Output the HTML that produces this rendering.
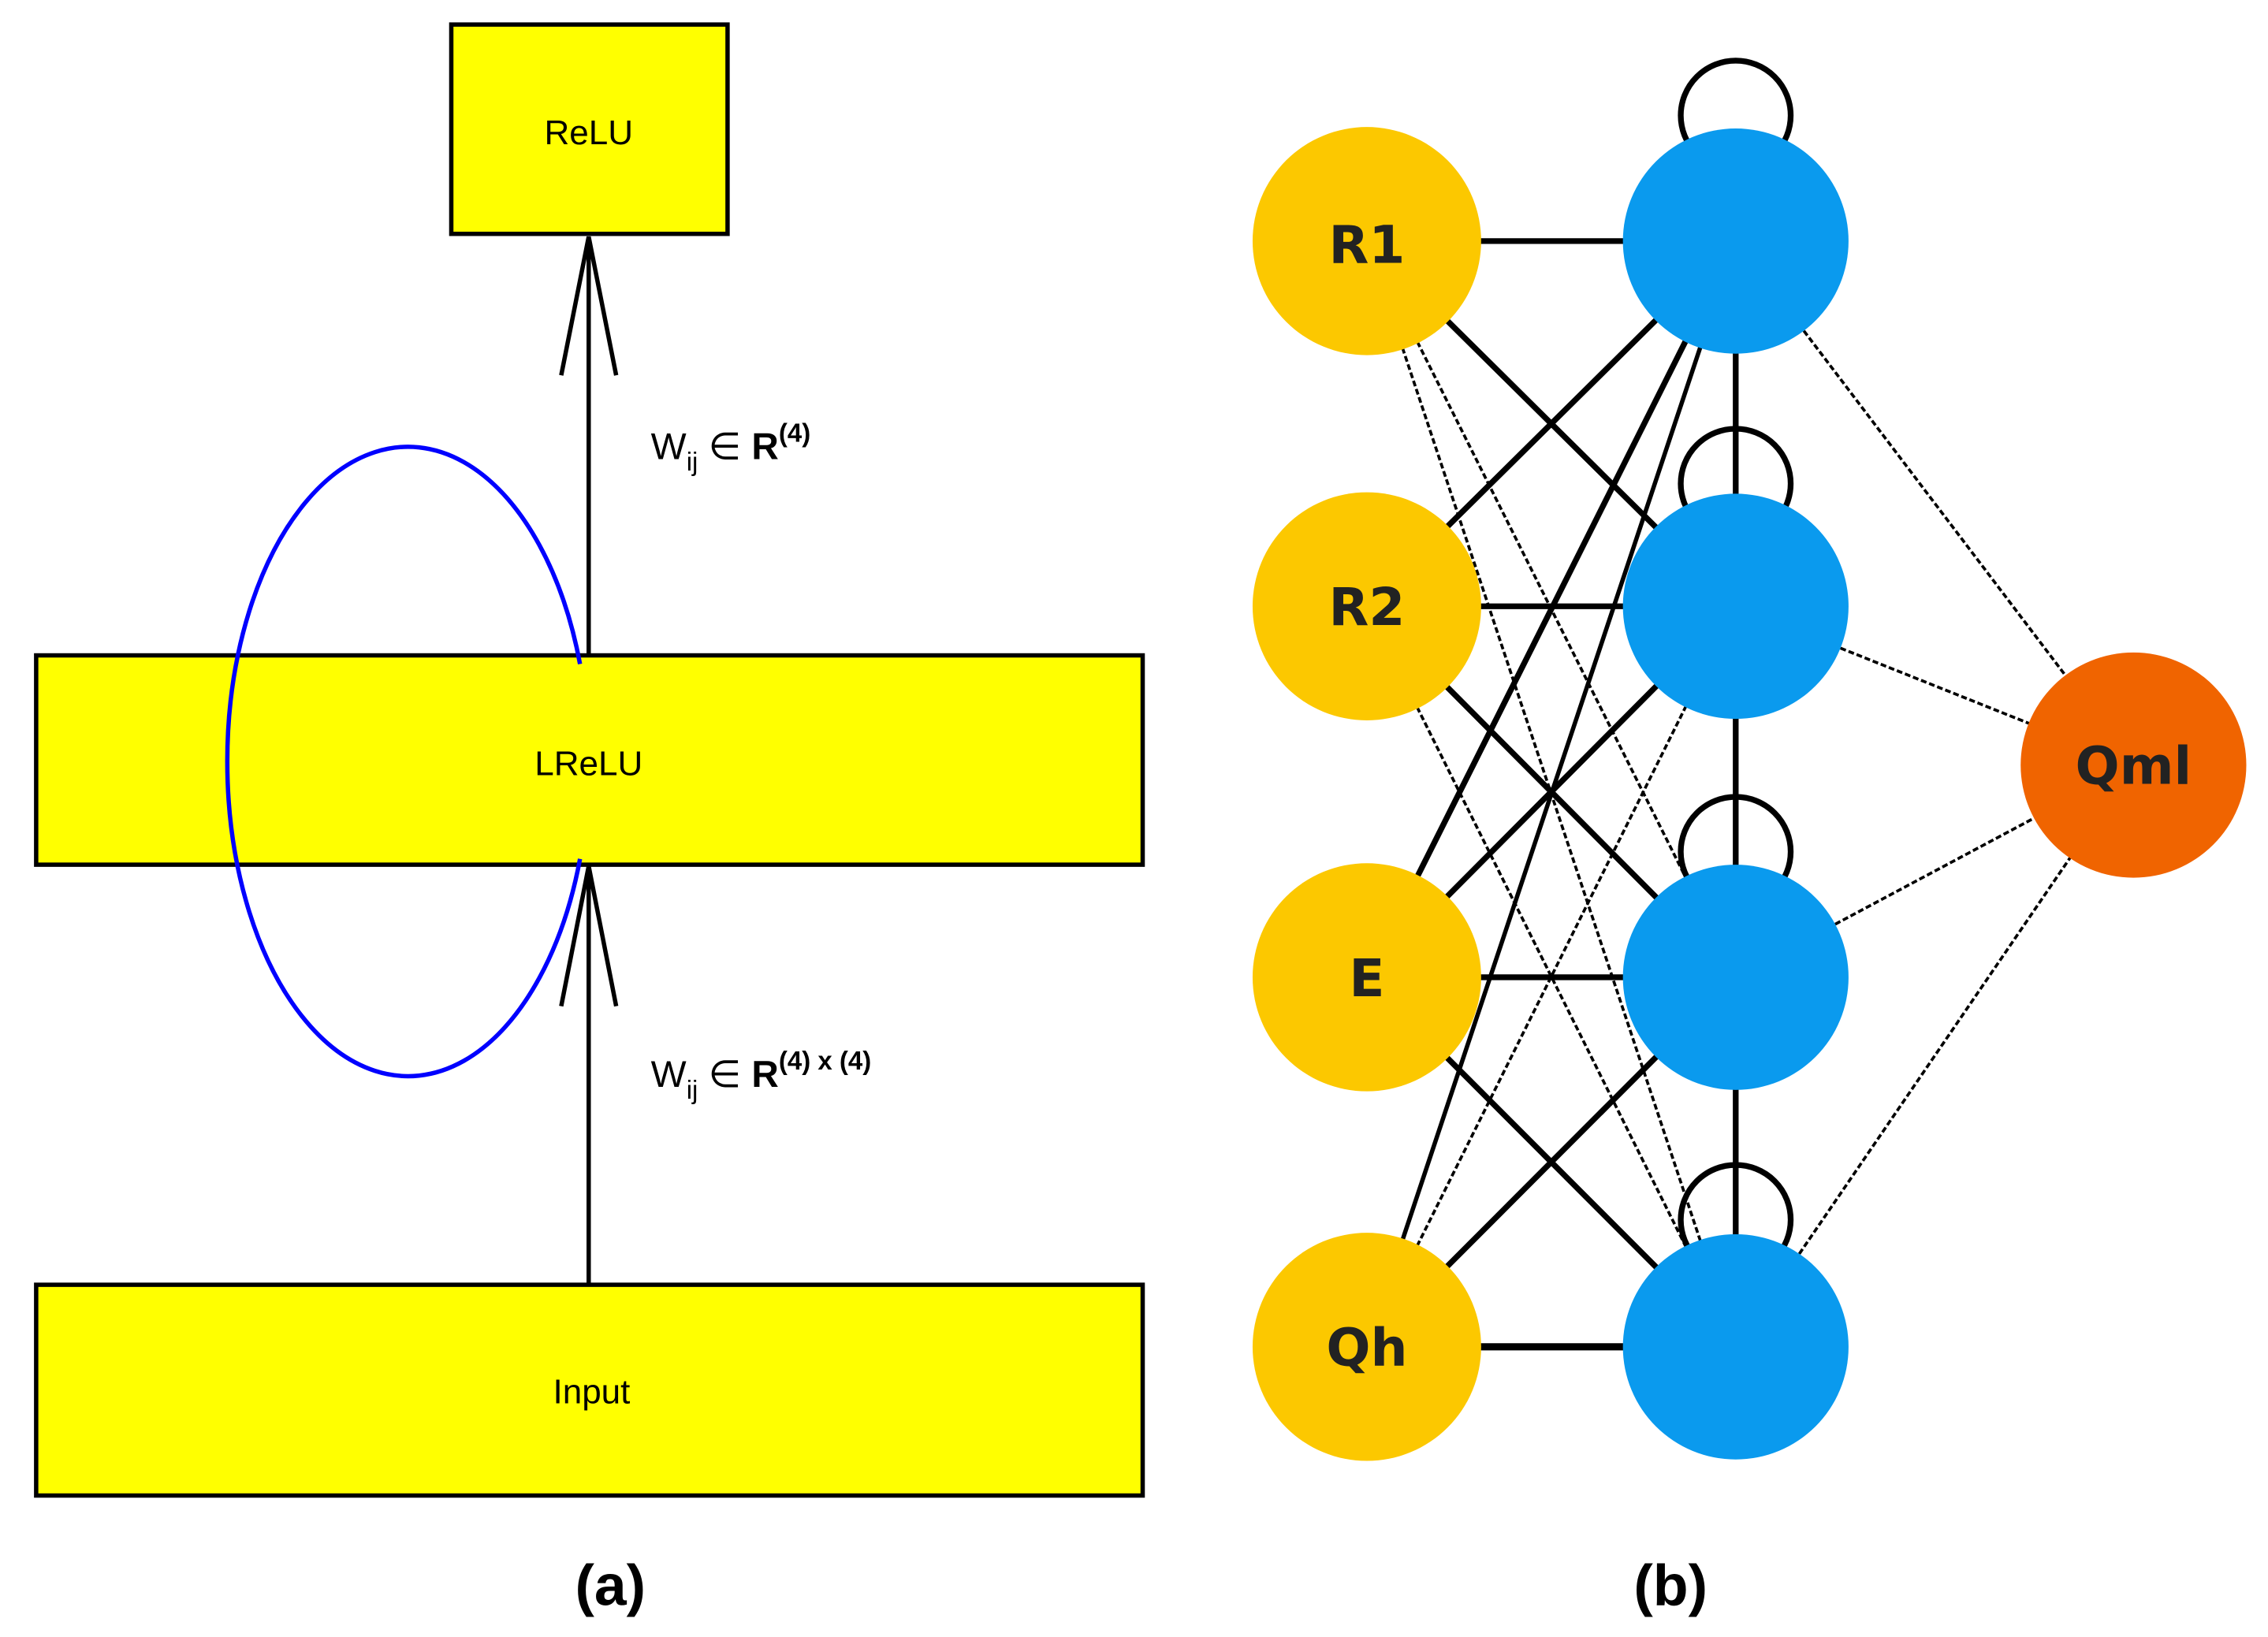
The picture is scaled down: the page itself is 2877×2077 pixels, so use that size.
<!DOCTYPE html>
<html><head><meta charset="utf-8"><style>html,body{margin:0;padding:0;background:#fff}svg{display:block}</style></head>
<body>
<svg width="2877" height="2077" viewBox="0 0 1568 1134" preserveAspectRatio="none" xmlns="http://www.w3.org/2000/svg" font-family="Liberation Sans, sans-serif">
<rect x="0" y="0" width="1568" height="1134" fill="#fff"/>
<rect x="312" y="17" width="191" height="145" fill="#ffff00" stroke="#000" stroke-width="3"/>
<text x="407" y="100" font-size="24" text-anchor="middle">ReLU</text>
<rect x="25" y="454" width="765" height="145" fill="#ffff00" stroke="#000" stroke-width="3"/>
<text x="407" y="537" font-size="24" text-anchor="middle">LReLU</text>
<rect x="25" y="890" width="765" height="146" fill="#ffff00" stroke="#000" stroke-width="3"/>
<text x="409" y="972" font-size="24" text-anchor="middle">Input</text>
<g stroke="#000" stroke-width="3" fill="none">
<line x1="407" y1="454" x2="407" y2="164"/>
<polyline points="388,260 407,164 426,260"/>
<line x1="407" y1="890" x2="407" y2="600"/>
<polyline points="388,697 407,600 426,697"/>
</g>
<path d="M401,460 A125,218 0 1 0 401,595" fill="none" stroke="#0000ff" stroke-width="3"/>
<text x="450" y="318" font-size="26">W<tspan font-size="18" dy="8">ij</tspan><tspan dy="-8"> ∈ </tspan><tspan font-weight="bold">R</tspan><tspan font-size="18" font-weight="bold" dy="-12">(4)</tspan></text>
<text x="450" y="753" font-size="26">W<tspan font-size="18" dy="8">ij</tspan><tspan dy="-8"> ∈ </tspan><tspan font-weight="bold">R</tspan><tspan font-size="18" font-weight="bold" dy="-12">(4) x (4)</tspan></text>
<text x="422" y="1112" font-size="40" font-weight="bold" text-anchor="middle">(a)</text>
<text x="1155" y="1112" font-size="40" font-weight="bold" text-anchor="middle">(b)</text>
<g stroke="#000" fill="none">
<g stroke-width="4">
<line x1="945" y1="167" x2="1200" y2="167"/>
<line x1="945" y1="167" x2="1200" y2="420"/>
<line x1="945" y1="420" x2="1200" y2="167"/>
<line x1="945" y1="420" x2="1200" y2="420"/>
<line x1="945" y1="420" x2="1200" y2="677"/>
<line x1="945" y1="677" x2="1200" y2="167"/>
<line x1="945" y1="677" x2="1200" y2="420"/>
<line x1="945" y1="677" x2="1200" y2="677"/>
<line x1="945" y1="677" x2="1200" y2="933"/>
<line x1="945" y1="933" x2="1200" y2="933" stroke-width="5"/>
<line x1="945" y1="933" x2="1200" y2="677"/>
<line x1="945" y1="933" x2="1200" y2="167" stroke-width="3"/>
<line x1="1200" y1="167" x2="1200" y2="933"/>
</g>
<g stroke-width="2" stroke-dasharray="4,2">
<line x1="945" y1="167" x2="1200" y2="677"/>
<line x1="945" y1="167" x2="1200" y2="933"/>
<line x1="945" y1="420" x2="1200" y2="933"/>
<line x1="945" y1="933" x2="1200" y2="420"/>
<line x1="945" y1="933" x2="1200" y2="167"/>
<line x1="1200" y1="167" x2="1475" y2="530"/>
<line x1="1200" y1="420" x2="1475" y2="530"/>
<line x1="1200" y1="677" x2="1475" y2="530"/>
<line x1="1200" y1="933" x2="1475" y2="530"/>
</g>
<g stroke-width="4">
<circle cx="1200" cy="80" r="38"/>
<circle cx="1200" cy="335" r="38"/>
<circle cx="1200" cy="590" r="38"/>
<circle cx="1200" cy="845" r="38"/>
</g>
</g>
<g fill="#fcc800">
<circle cx="945" cy="167" r="79"/><circle cx="945" cy="420" r="79"/>
<circle cx="945" cy="677" r="79"/><circle cx="945" cy="933" r="79"/>
</g>
<g fill="#0a9aee">
<circle cx="1200" cy="167" r="78"/><circle cx="1200" cy="420" r="78"/>
<circle cx="1200" cy="677" r="78"/><circle cx="1200" cy="933" r="78"/>
</g>
<circle cx="1475" cy="530" r="78" fill="#f06400"/>
<g font-size="36" font-weight="bold" fill="#222" text-anchor="middle" font-family="DejaVu Sans, sans-serif">
<text x="945" y="182">R1</text><text x="945" y="433">R2</text>
<text x="945" y="690">E</text><text x="945" y="946">Qh</text>
<text x="1475" y="543">Qml</text>
</g>
</svg>
</body></html>
